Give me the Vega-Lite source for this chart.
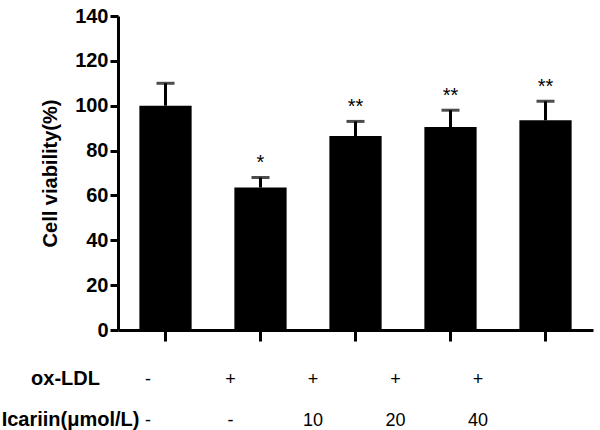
{
  "$schema": "https://vega.github.io/schema/vega-lite/v6.json",
  "width": 475,
  "height": 314,
  "autosize": {"type": "none"},
  "padding": {"left": 118, "top": 16, "right": 7, "bottom": 100},
  "background": "white",
  "config": {"view": {"stroke": null}, "font": "Liberation Sans"},
  "layer": [
    {
      "data": {
        "values": [
          {"group": "G1", "value": 100, "err": 110, "sig": ""},
          {"group": "G2", "value": 63.5, "err": 68, "sig": "*"},
          {"group": "G3", "value": 86.5, "err": 93, "sig": "**"},
          {"group": "G4", "value": 90.5, "err": 98, "sig": "**"},
          {"group": "G5", "value": 93.5, "err": 102, "sig": "**"}
        ]
      },
      "encoding": {
        "x": {
          "field": "group",
          "type": "nominal",
          "sort": null,
          "scale": {"paddingInner": 0.45, "paddingOuter": 0.225},
          "axis": {
            "labels": false,
            "title": null,
            "tickSize": 11,
            "tickWidth": 3,
            "tickColor": "black",
            "domainWidth": 3,
            "domainColor": "black",
            "grid": false
          }
        }
      },
      "layer": [
        {
          "mark": {"type": "bar", "color": "black"},
          "encoding": {
            "y": {
              "field": "value",
              "type": "quantitative",
              "scale": {"domain": [0, 140], "nice": false},
              "axis": {
                "title": "Cell viability(%)",
                "values": [0, 20, 40, 60, 80, 100, 120, 140],
                "grid": false,
                "tickSize": 8,
                "tickWidth": 3,
                "tickColor": "black",
                "domainWidth": 3,
                "domainColor": "black",
                "labelFontSize": 20,
                "labelFontWeight": "bold",
                "labelColor": "black",
                "labelPadding": 2,
                "titleFontSize": 20,
                "titleFontWeight": "bold",
                "titleColor": "black",
                "titlePadding": 14
              }
            }
          }
        },
        {
          "mark": {"type": "rule", "color": "black", "strokeWidth": 3},
          "encoding": {
            "y": {"field": "value", "type": "quantitative"},
            "y2": {"field": "err"}
          }
        },
        {
          "mark": {"type": "tick", "color": "black", "size": 18, "thickness": 3, "orient": "horizontal"},
          "encoding": {
            "y": {"field": "err", "type": "quantitative"}
          }
        },
        {
          "mark": {"type": "text", "fontSize": 20, "baseline": "alphabetic", "dy": -8, "color": "black"},
          "encoding": {
            "y": {"field": "err", "type": "quantitative"},
            "text": {"field": "sig"}
          }
        }
      ]
    },
    {
      "data": {
        "values": [
          {"col": 0, "row": 1, "t": "ox-LDL", "kind": "label"},
          {"col": 0, "row": 2, "t": "Icariin(μmol/L)", "kind": "label"},
          {"col": 1, "row": 1, "t": "-", "kind": "cell"},
          {"col": 2, "row": 1, "t": "+", "kind": "cell"},
          {"col": 3, "row": 1, "t": "+", "kind": "cell"},
          {"col": 4, "row": 1, "t": "+", "kind": "cell"},
          {"col": 5, "row": 1, "t": "+", "kind": "cell"},
          {"col": 1, "row": 2, "t": "-", "kind": "cell"},
          {"col": 2, "row": 2, "t": "-", "kind": "cell"},
          {"col": 3, "row": 2, "t": "10", "kind": "cell"},
          {"col": 4, "row": 2, "t": "20", "kind": "cell"},
          {"col": 5, "row": 2, "t": "40", "kind": "cell"}
        ]
      },
      "encoding": {
        "x": {"field": "col", "type": "quantitative", "scale": {"domain": [0.636, 6.394], "nice": false, "zero": false}, "axis": null},
        "y": {"field": "row", "type": "quantitative", "scale": {"domain": [-8, -0.342], "nice": false, "zero": false, "reverse": true}, "axis": null},
        "text": {"field": "t"}
      },
      "layer": [
        {
          "transform": [{"filter": "datum.kind === 'label' && datum.row === 1"}],
          "mark": {"type": "text", "fontSize": 20, "fontWeight": "bold", "baseline": "alphabetic", "align": "center", "color": "black"}
        },
        {
          "transform": [{"filter": "datum.kind === 'label' && datum.row === 2"}],
          "mark": {"type": "text", "fontSize": 20, "fontWeight": "bold", "baseline": "alphabetic", "align": "center", "dx": 5, "color": "black"}
        },
        {
          "transform": [{"filter": "datum.kind === 'cell'"}],
          "mark": {"type": "text", "fontSize": 18, "baseline": "alphabetic", "align": "center", "color": "black"}
        }
      ]
    }
  ],
  "resolve": {"scale": {"x": "independent", "y": "independent"}}
}
